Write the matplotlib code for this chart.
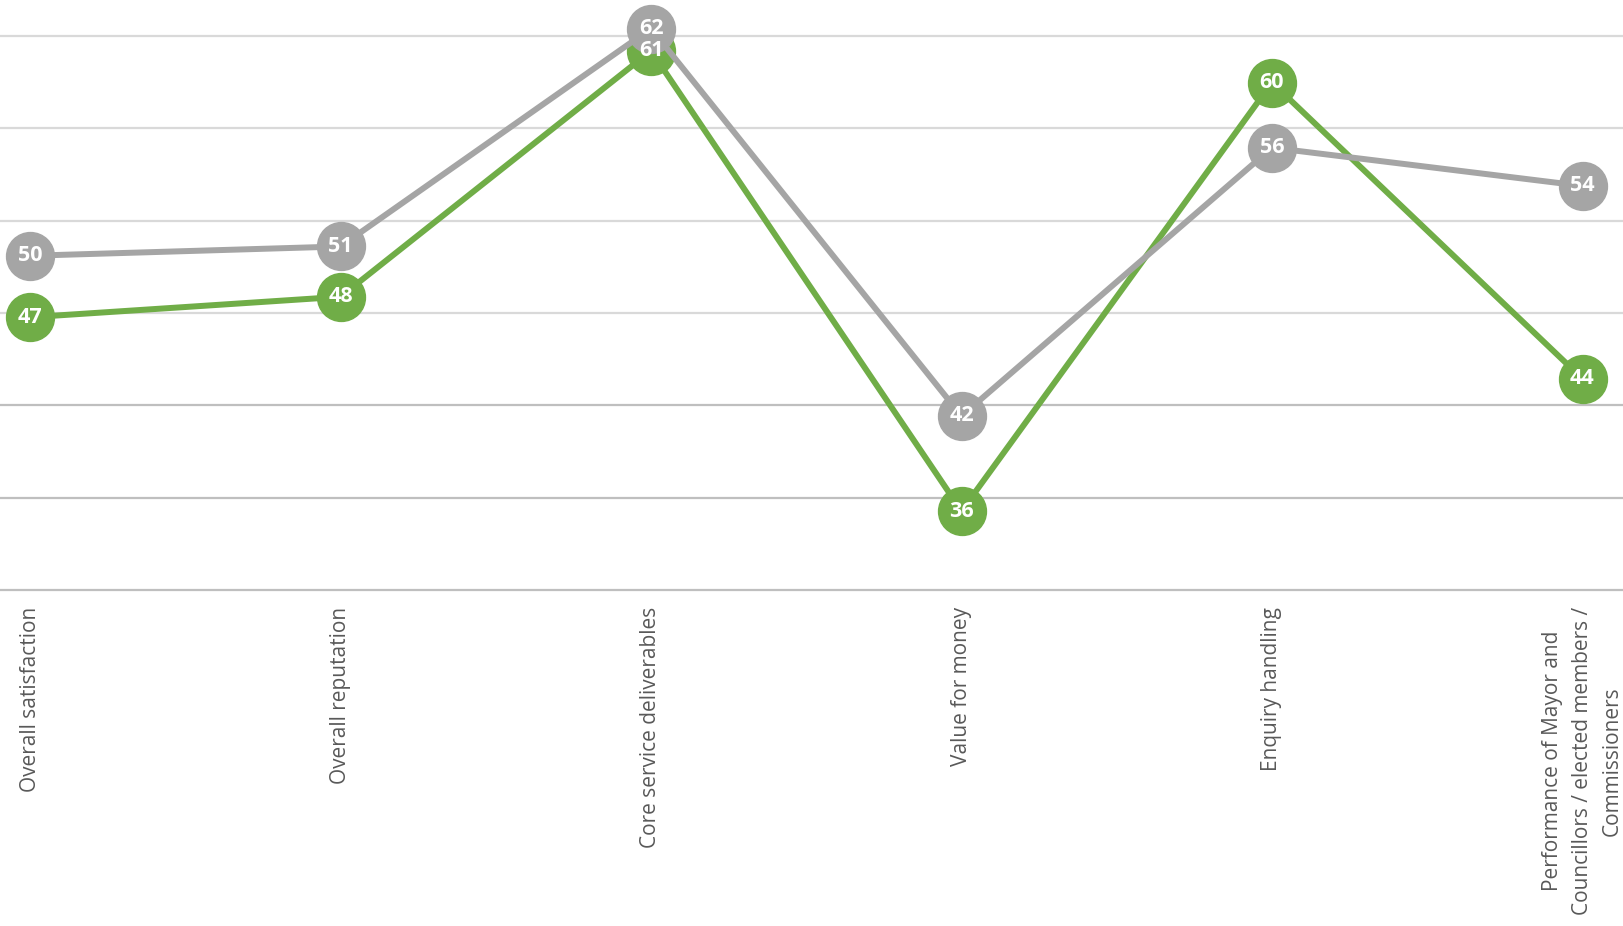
import numpy as np
import matplotlib
matplotlib.use("Agg")
import matplotlib.pyplot as plt

plt.rcParams['font.family'] = ['Open Sans', 'DejaVu Sans']

categories = ["Overall satisfaction", "Overall reputation", "Core service deliverables",
              "Value for money", "Enquiry handling",
              "Performance of Mayor and\nCouncillors / elected members /\nCommissioners"]
# values, labels as printed on the markers
green_vals = [46.9, 48.0, 61.2, 36.5, 59.5, 43.6]
gray_vals = [50.2, 50.7, 62.4, 41.6, 56.0, 53.95]
green_labels = ["47", "48", "61", "36", "60", "44"]
gray_labels = ["50", "51", "62", "42", "56", "54"]

green = '#70AD47'
gray = '#A5A5A5'
text_col = '#595959'

fig = plt.figure(figsize=(16.23, 9.26), dpi=100)
ax = fig.add_axes([0, 1 - 590 / 926, 1, 590 / 926])

x = np.arange(len(categories))

ymin, ymax = 32.26, 63.93
grid_vals = np.linspace(ymin, 62.0, 7)
for i, g in enumerate(grid_vals):
    # lower grid lines look a bit darker in the original
    c = '#BFBFBF' if i < 3 else '#D9D9D9'
    ax.axhline(g, color=c, linewidth=1.6, zorder=1, clip_on=False)

for vals, col, z in [(green_vals, green, 3), (gray_vals, gray, 4)]:
    ax.plot(x, vals, color=col, linewidth=4.3, marker='o', markersize=34.5,
            markerfacecolor=col, markeredgecolor=col, zorder=z, clip_on=False)

for vals, labels in [(green_vals, green_labels), (gray_vals, gray_labels)]:
    for xi, v, lab in zip(x, vals, labels):
        ax.text(xi, v, lab, ha='center', va='center', color='white',
                fontsize=15.5, fontweight='bold', zorder=10)

ax.set_xlim(-30 / 310.5, (1623 - 30) / 310.5)
ax.set_ylim(ymin, ymax)
ax.set_yticks([])
ax.set_xticks(x)
ax.set_xticklabels(categories, rotation=90, va='top', ha='center',
                   multialignment='center', color=text_col, fontsize=15,
                   linespacing=1.55)
ax.tick_params(axis='x', length=0, pad=12)
for s in ax.spines.values():
    s.set_visible(False)

fig.savefig('out.png', dpi=100, facecolor='white')
